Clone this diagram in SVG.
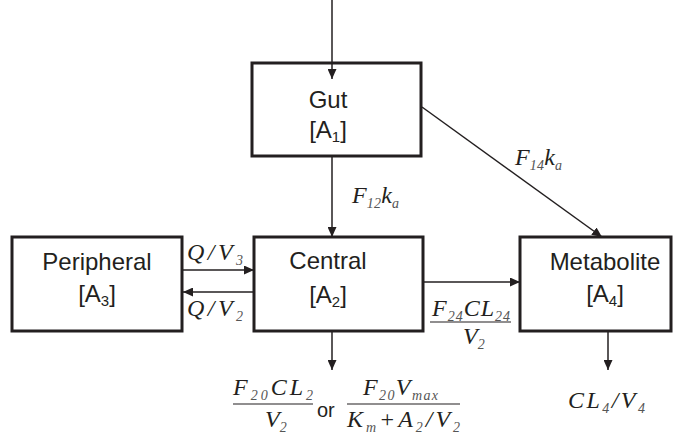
<svg xmlns="http://www.w3.org/2000/svg" width="680" height="436" viewBox="0 0 680 436">
  <style>
    .box { fill: #ffffff; stroke: #231f20; stroke-width: 3; }
    .edge { fill: none; stroke: #231f20; stroke-width: 1.5; }
    .bar { stroke: #231f20; stroke-width: 1.2; }
    .lbl { font-family: "Liberation Sans", Arial, sans-serif; font-size: 24px; fill: #231f20; text-anchor: middle; }
    .sub { font-size: 15px; }
    .math { font-family: "Liberation Serif", "Times New Roman", serif; font-style: italic; font-size: 24px; fill: #231f20; }
    .ms { font-size: 14px; fill: #555555; }
    .or { font-family: "Liberation Sans", Arial, sans-serif; font-size: 20px; fill: #231f20; }
  </style>
  <defs>
    <marker id="arrow" markerUnits="userSpaceOnUse" markerWidth="10" markerHeight="9" refX="10" refY="4.5" orient="auto">
      <path d="M0,0 L10,4.5 L0,9 z" fill="#231f20"/>
    </marker>
  </defs>

  <rect width="680" height="436" fill="#ffffff"/>

  <!-- compartments -->
  <g id="gut">
    <rect class="box" x="252" y="63" width="169" height="93"/>
    <text class="lbl" x="328" y="108">Gut</text>
    <text class="lbl" x="328" y="138">[A<tspan class="sub" dy="4">1</tspan><tspan dy="-4">]</tspan></text>
  </g>
  <g id="peripheral">
    <rect class="box" x="12" y="237" width="170" height="94"/>
    <text class="lbl" x="97" y="270">Peripheral</text>
    <text class="lbl" x="97" y="302">[A<tspan class="sub" dy="4">3</tspan><tspan dy="-4">]</tspan></text>
  </g>
  <g id="central">
    <rect class="box" x="254" y="237" width="169" height="94"/>
    <text class="lbl" x="328" y="269">Central</text>
    <text class="lbl" x="328" y="303">[A<tspan class="sub" dy="4">2</tspan><tspan dy="-4">]</tspan></text>
  </g>
  <g id="metabolite">
    <rect class="box" x="520" y="237" width="151" height="94"/>
    <text class="lbl" x="605" y="270">Metabolite</text>
    <text class="lbl" x="605" y="302">[A<tspan class="sub" dy="4">4</tspan><tspan dy="-4">]</tspan></text>
  </g>

  <!-- connectors -->
  <g id="connectors">
    <line class="edge" x1="332" y1="0" x2="332" y2="79" marker-end="url(#arrow)"/>
    <line class="edge" x1="332" y1="157" x2="332" y2="237" marker-end="url(#arrow)"/>
    <line class="edge" x1="422" y1="107" x2="602" y2="237" marker-end="url(#arrow)"/>
    <line class="edge" x1="183" y1="270" x2="254" y2="270" marker-end="url(#arrow)"/>
    <line class="edge" x1="254" y1="292" x2="183" y2="292" marker-end="url(#arrow)"/>
    <line class="edge" x1="424" y1="282" x2="520" y2="282" marker-end="url(#arrow)"/>
    <line class="edge" x1="332" y1="332" x2="332" y2="370" marker-end="url(#arrow)"/>
    <line class="edge" x1="608" y1="332" x2="608" y2="370" marker-end="url(#arrow)"/>
  </g>

  <!-- rate labels -->
  <g id="rates">
    <text class="math" x="352" y="203" textLength="47" lengthAdjust="spacing">F<tspan class="ms" dy="5">12</tspan><tspan dy="-5">k</tspan><tspan class="ms" dy="5">a</tspan></text>
    <text class="math" x="515" y="165" textLength="47" lengthAdjust="spacing">F<tspan class="ms" dy="5">14</tspan><tspan dy="-5">k</tspan><tspan class="ms" dy="5">a</tspan></text>
    <text class="math" x="187" y="260" textLength="56" lengthAdjust="spacing">Q/V<tspan class="ms" dy="5">3</tspan></text>
    <text class="math" x="187" y="316" textLength="56" lengthAdjust="spacing">Q/V<tspan class="ms" dy="5">2</tspan></text>

    <text class="math" x="432" y="316" textLength="78" lengthAdjust="spacing">F<tspan class="ms" dy="5">24</tspan><tspan dy="-5">CL</tspan><tspan class="ms" dy="5">24</tspan></text>
    <line class="bar" x1="430" y1="322" x2="511" y2="322"/>
    <text class="math" x="463" y="344">V<tspan class="ms" dy="5">2</tspan></text>

    <text class="math" x="233" y="395" textLength="80" lengthAdjust="spacing">F<tspan class="ms" dy="5">20</tspan><tspan dy="-5">CL</tspan><tspan class="ms" dy="5">2</tspan></text>
    <line class="bar" x1="233" y1="404" x2="313" y2="404"/>
    <text class="math" x="265" y="427">V<tspan class="ms" dy="5">2</tspan></text>
    <text class="or" x="317" y="417">or</text>
    <text class="math" x="363" y="395" textLength="75" lengthAdjust="spacing">F<tspan class="ms" dy="5">20</tspan><tspan dy="-5">V</tspan><tspan class="ms" dy="5">max</tspan></text>
    <line class="bar" x1="347" y1="404" x2="460" y2="404"/>
    <text class="math" x="347" y="427" textLength="113" lengthAdjust="spacing">K<tspan class="ms" dy="5">m</tspan><tspan dy="-5">+A</tspan><tspan class="ms" dy="5">2</tspan><tspan dy="-5">/V</tspan><tspan class="ms" dy="5">2</tspan></text>

    <text class="math" x="568" y="408" textLength="77" lengthAdjust="spacing">CL<tspan class="ms" dy="5">4</tspan><tspan dy="-5">/V</tspan><tspan class="ms" dy="5">4</tspan></text>
  </g>
</svg>
